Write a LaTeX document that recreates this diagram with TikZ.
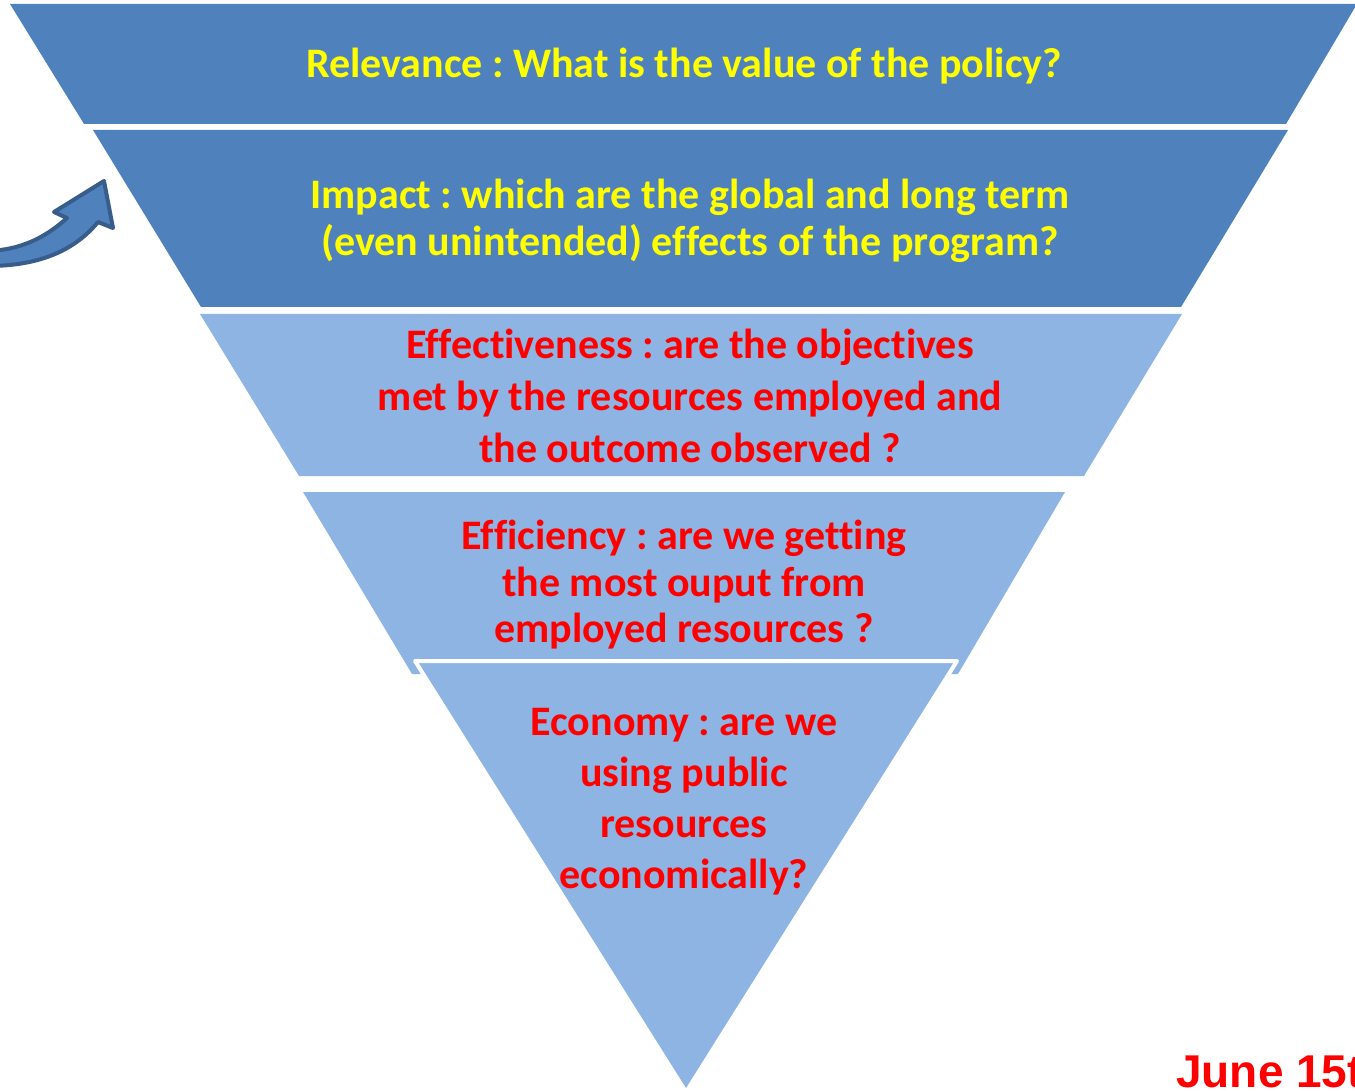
\documentclass[tikz,border=0pt]{standalone}
\usepackage{fontspec}
\setmainfont[Ligatures={NoCommon}]{Carlito}
\newfontfamily\arialfont{Liberation Sans}
\definecolor{darkband}{HTML}{4F81BD}
\definecolor{lightband}{HTML}{8EB4E3}
\definecolor{arrowline}{HTML}{385D8A}
\definecolor{txtyellow}{HTML}{FFFF00}
\definecolor{txtred}{HTML}{FF0000}
\begin{document}
\frenchspacing
\begin{tikzpicture}[x=1pt,y=-1pt,
  darkshape/.style={fill=darkband,draw=none},
  lightshape/.style={fill=lightband,draw=none},
  yellowtext/.style={text=txtyellow,font=\bfseries\fontsize{42}{47}\selectfont,align=center,inner sep=0pt},
  redtext/.style={text=txtred,font=\bfseries\fontsize{42}{52}\selectfont,align=center,inner sep=0pt}]
\useasboundingbox (0,0) rectangle (1355,1091);
\clip (0,0) rectangle (1355,1091);
% bands
\path[darkshape] (10,4) -- (1357,4) -- (1286,124) -- (84,124) -- cycle;
\path[darkshape] (93,130) -- (1288,130) -- (1181,307) -- (201,307) -- cycle;
\path[lightshape] (200,314) -- (1182,314) -- (1084,476) -- (299,476) -- cycle;
\path[lightshape] (303,492) -- (1065,492) -- (958,674) -- (412,674) -- cycle;
\path[lightshape,draw=white,line width=4pt,line join=round] (415,661) -- (957,661) -- (686,1092) -- cycle;
% texts
\node[yellowtext] (relevance) at (684,66) {Relevance : What is the value of the policy?};
\node[yellowtext] (impact) at (690,221) {Impact : which are the global and long term\\(even unintended) effects of the program?};
\node[redtext] (effectiveness) at (690,396) {Effectiveness : are the objectives\\met by the resources employed and\\the outcome observed ?};
\node[redtext,font=\bfseries\fontsize{42}{46.5}\selectfont] (efficiency) at (684,585) {Efficiency : are we getting\\the most ouput from\\employed resources ?};
\node[redtext,font=\bfseries\fontsize{42}{51}\selectfont] (economy) at (684,801.5) {Economy : are we\\using public\\resources\\economically?};
% curved arrow
\path[fill=darkband,draw=arrowline,line width=4pt,line join=round]
  (-12,251) .. controls (20,250) and (45,238) .. (67,218)
  -- (54,212) -- (104,181) -- (113,228) -- (98,222)
  .. controls (75,250) and (40,266) .. (-12,266) -- cycle;
% date
\node[anchor=base west,text=txtred,font=\arialfont\bfseries\fontsize{46}{50}\selectfont,inner sep=0pt] (date) at (1176,1087) {June 15t};
\end{tikzpicture}
\end{document}
